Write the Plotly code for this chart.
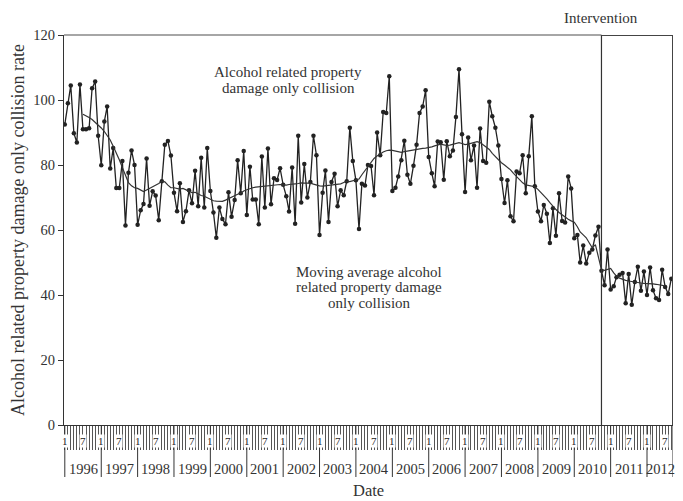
import plotly.graph_objects as go
import pandas as pd

# ---------------- data ----------------
start_month = "1996-01-01"
rate = [
    92.5, 99.0, 104.5, 89.8, 86.9, 104.8, 91.0, 91.0, 91.3, 103.6, 105.7, 89.0,   # 1996
    79.9, 93.4, 98.0, 78.9, 85.2, 72.9, 72.9, 81.2, 61.4, 77.6, 84.5, 80.0,       # 1997
    61.6, 66.1, 68.0, 82.0, 67.5, 71.9, 70.6, 63.0, 75.0, 86.2, 87.4, 82.9,       # 1998
    71.5, 65.8, 74.4, 62.5, 65.8, 72.2, 68.2, 78.2, 67.3, 82.2, 66.9, 85.2,       # 1999
    72.0, 65.4, 57.6, 66.9, 63.4, 61.8, 71.6, 64.1, 69.2, 81.5, 71.3, 84.3,       # 2000
    64.6, 79.5, 69.4, 69.4, 61.8, 82.6, 66.9, 85.1, 67.9, 75.9, 75.4, 79.0,       # 2001
    73.9, 70.4, 65.7, 79.2, 61.9, 89.0, 68.5, 80.3, 70.0, 74.8, 89.0, 83.0,       # 2002
    58.5, 71.5, 78.3, 62.5, 74.8, 77.3, 67.3, 72.2, 70.7, 75.0, 91.5, 81.2,       # 2003
    75.3, 60.3, 74.2, 73.7, 80.0, 79.7, 70.7, 90.0, 83.0, 96.3, 96.0, 107.3,      # 2004
    72.0, 73.0, 76.5, 81.5, 87.5, 77.0, 74.2, 79.8, 86.2, 96.0, 98.0, 103.0,      # 2005
    82.5, 77.5, 73.5, 87.2, 87.0, 75.5, 87.3, 82.7, 84.5, 94.8, 109.5, 89.5,      # 2006
    71.7, 88.5, 81.5, 86.0, 73.0, 91.2, 81.2, 80.7, 99.5, 95.0, 91.5, 86.0,       # 2007
    75.7, 68.3, 75.3, 64.2, 62.7, 78.0, 77.5, 83.0, 71.3, 82.7, 95.0, 73.5,       # 2008
    65.7, 62.7, 67.7, 65.0, 56.0, 66.7, 58.2, 71.3, 62.8, 62.3, 76.5, 72.8,       # 2009
    57.5, 58.5, 50.0, 55.2, 49.7, 53.0, 54.0, 58.3, 61.0, 47.5, 43.0, 54.0,       # 2010
    41.7, 42.7, 45.5, 46.2, 46.8, 37.5, 46.5, 37.0, 44.0, 48.7, 41.3, 47.2,       # 2011
    40.0, 48.5, 41.5, 39.0, 38.5, 47.8, 42.5, 40.3, 45.0,                         # 2012
]

ma_start_month = "1996-07-01"
moving_avg = [
    95.6, 95.2, 94.6, 94.0, 93.2, 92.3,
    91.4, 90.3, 89.0, 87.7, 85.8, 83.8, 81.6, 79.2, 76.8, 74.6, 73.6, 73.0,
    72.8, 72.3, 71.8, 72.3, 72.8, 73.1, 73.6, 74.3, 75.0, 74.8, 73.8, 73.0,
    73.0, 72.9, 72.6, 72.8, 72.4, 71.8, 71.5, 71.6, 71.0, 70.6, 70.4, 69.9,
    69.6, 69.0, 68.9, 68.9, 68.8, 69.2, 69.7, 70.2, 70.6, 71.0, 71.3, 72.0,
    72.4, 72.8, 73.0, 73.2, 73.3, 73.5, 73.6, 73.7, 73.8, 73.7, 73.8, 74.0,
    73.9, 73.8, 74.0, 74.0, 74.2, 74.3, 74.5, 74.4, 74.4, 74.4, 74.1, 73.8,
    73.6, 73.5, 73.6, 73.7, 73.8, 73.9, 74.0, 74.2, 74.6, 75.0, 74.9, 75.1,
    75.4, 75.7, 77.0, 78.3, 79.6, 81.0, 82.0, 82.8, 83.5, 84.0, 84.4, 84.6,
    84.5, 84.3, 84.1, 83.9, 84.1, 84.3, 84.5, 84.7, 84.9, 85.0, 85.1, 85.2,
    85.3, 85.6, 85.9, 86.2, 86.4, 86.2, 86.0, 86.1, 86.4, 86.7, 86.9, 86.6,
    86.3, 86.4, 86.6, 87.0, 87.2, 86.9, 86.3, 85.6, 84.8, 83.6, 82.6, 81.5,
    80.7, 80.0, 79.3, 78.5, 77.4, 76.4, 75.6, 74.5, 73.9, 73.7, 73.5, 73.3,
    72.5, 71.6, 70.8, 69.6, 68.4, 67.2, 66.3, 65.4, 64.6, 64.0, 63.3, 62.8,
    62.4, 61.0, 59.4, 58.5, 57.6, 56.0, 54.5, 55.5, 52.0, 47.8, 47.6, 48.0,
    48.2, 46.8, 45.8, 45.2, 44.8, 44.5, 44.3, 44.1, 43.9, 43.8, 43.7, 43.6,
    43.6, 43.5, 43.4, 43.3, 43.1, 43.0, 42.8,
]

years = list(range(1996, 2013))
month_labels = {1: "1", 7: "7"}
y_ticks = [0, 20, 40, 60, 80, 100, 120]
intervention_month = "2010-10-01"
x_range = ["1995-12-24", "2012-09-18"]
y_range = [0, 120]

# ---------------- figure ----------------
months = pd.date_range(start_month, periods=len(rate), freq="MS")
ma_months = pd.date_range(ma_start_month, periods=len(moving_avg), freq="MS")

SERIF = "Liberation Serif"
TXT = "#333333"
INK = "#222222"

PLOT_H = 390.0  # plot height in px (for paper offsets)

fig = go.Figure()
fig.add_trace(go.Scatter(
    x=months, y=rate, mode="lines+markers",
    line=dict(color=INK, width=1.3),
    marker=dict(color=INK, size=4.5),
    name="Alcohol related property damage only collision",
    showlegend=False,
))
fig.add_trace(go.Scatter(
    x=ma_months, y=moving_avg, mode="lines",
    line=dict(color="#333333", width=1.2),
    name="Moving average",
    showlegend=False,
))

shapes = []
annotations = []

# year separators (Jan 1 of each year + axis end)
sep_dates = [pd.Timestamp(f"{y}-01-01") for y in years] + [pd.Timestamp(x_range[1])]
for d in sep_dates:
    shapes.append(dict(type="line", xref="x", yref="paper",
                       x0=d, x1=d, y0=0, y1=-52 / PLOT_H,
                       line=dict(color="#333333", width=1)))

# year labels centered in each year span
for k, y in enumerate(years):
    a, b = sep_dates[k], sep_dates[k + 1]
    mid = a + (b - a) / 2
    annotations.append(dict(x=mid, y=-44 / PLOT_H, xref="x", yref="paper",
                            text=str(y), showarrow=False,
                            font=dict(family=SERIF, size=14.5, color=TXT),
                            xanchor="center", yanchor="middle"))

# month labels 1 and 7
for d in months:
    if d.month in month_labels:
        annotations.append(dict(x=d, y=-16 / PLOT_H, xref="x", yref="paper",
                                text=month_labels[d.month], showarrow=False,
                                font=dict(family=SERIF, size=11, color=INK),
                                bgcolor="white", borderpad=0,
                                xanchor="center", yanchor="middle"))

iv = pd.Timestamp(intervention_month)
# top border (gray) up to intervention
shapes.append(dict(type="line", xref="paper", yref="paper",
                   x0=0, x1=(iv - pd.Timestamp(x_range[0])) / (pd.Timestamp(x_range[1]) - pd.Timestamp(x_range[0])),
                   y0=1, y1=1, line=dict(color="#888888", width=1.5)))
# intervention box
shapes.append(dict(type="line", xref="x", yref="y", x0=iv, x1=iv, y0=y_range[0], y1=y_range[1],
                   line=dict(color="#333333", width=1.2)))
shapes.append(dict(type="line", xref="x", yref="y", x0=iv, x1=x_range[1], y0=y_range[1], y1=y_range[1],
                   line=dict(color="#444444", width=2)))
shapes.append(dict(type="line", xref="x", yref="y", x0=x_range[1], x1=x_range[1], y0=y_range[0], y1=y_range[1],
                   line=dict(color="#444444", width=2)))

# text labels
annotations += [
    dict(x=iv, y=1 + 17 / PLOT_H, xref="x", yref="paper", text="Intervention",
         showarrow=False, font=dict(family=SERIF, size=15, color=TXT),
         xanchor="center", yanchor="middle"),
    dict(x=0.368, y=0.906, xref="paper", yref="paper", text="Alcohol related property",
         showarrow=False, font=dict(family=SERIF, size=15, color=TXT), xanchor="center", yanchor="middle"),
    dict(x=0.368, y=0.863, xref="paper", yref="paper", text="damage only collision",
         showarrow=False, font=dict(family=SERIF, size=15, color=TXT), xanchor="center", yanchor="middle"),
    dict(x=0.501, y=0.393, xref="paper", yref="paper", text="Moving average alcohol",
         showarrow=False, font=dict(family=SERIF, size=15, color=TXT), xanchor="center", yanchor="middle"),
    dict(x=0.501, y=0.353, xref="paper", yref="paper", text="related property damage",
         showarrow=False, font=dict(family=SERIF, size=15, color=TXT), xanchor="center", yanchor="middle"),
    dict(x=0.501, y=0.3136, xref="paper", yref="paper", text="only collision",
         showarrow=False, font=dict(family=SERIF, size=15, color=TXT), xanchor="center", yanchor="middle"),
    dict(x=0.5, y=-65 / PLOT_H, xref="paper", yref="paper", text="Date",
         showarrow=False, font=dict(family=SERIF, size=16.5, color=TXT), xanchor="center", yanchor="middle"),
    dict(x=-46 / 609.0, y=0.5, xref="paper", yref="paper",
         text="Alcohol related property damage only collision rate", textangle=-90,
         showarrow=False, font=dict(family=SERIF, size=18, color=TXT), xanchor="center", yanchor="middle"),
]

fig.update_layout(
    width=683, height=501,
    margin=dict(l=64, r=10, t=35, b=76),
    paper_bgcolor="white", plot_bgcolor="white",
    shapes=shapes, annotations=annotations,
    showlegend=False,
    xaxis=dict(type="date", range=x_range, tickmode="array", tickvals=list(months),
               ticks="outside", ticklen=24, tickwidth=1, tickcolor="#555555",
               showticklabels=False, showgrid=False, zeroline=False,
               showline=True, linecolor="#333333", linewidth=1.2),
    yaxis=dict(range=y_range, tickmode="array", tickvals=y_ticks,
               ticks="outside", ticklen=5, tickwidth=1, tickcolor="#333333",
               tickfont=dict(family=SERIF, size=14.5, color=TXT),
               showgrid=False, zeroline=False,
               showline=True, linecolor="#333333", linewidth=1.2),
)

fig.write_html("out.html")
